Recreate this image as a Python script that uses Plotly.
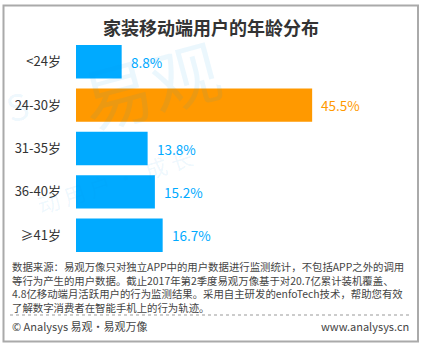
import plotly.graph_objects as go

categories = ["<24岁", "24-30岁", "31-35岁", "36-40岁", "≥41岁"]
values = [8.8, 45.5, 13.8, 15.2, 16.7]
bar_colors = ["#00AAFF", "#FF9900", "#00AAFF", "#00AAFF", "#00AAFF"]
title_text = "家装移动端用户的年龄分布"
note_lines = [
    "数据来源：易观万像只对独立APP中的用户数据进行监测统计，不包括APP之外的调用",
    "等行为产生的用户数据。截止2017年第2季度易观万像基于对20.7亿累计装机覆盖、",
    "4.8亿移动端月活跃用户的行为监测结果。采用自主研发的enfoTech技术，帮助您有效",
    "了解数字消费者在智能手机上的行为轨迹。",
]
footer_left = "© Analysys 易观·易观万像"
footer_right = "www.analysys.cn"

W, H = 421, 348
L, R, T, B = 76, 11, 40, 91
PW, PH = W - L - R, H - T - B


def px(x):
    return (x - L) / PW


def py(y):
    return (H - B - y) / PH


FONT = "Noto Sans CJK SC"

fig = go.Figure()
fig.add_trace(go.Bar(
    x=values, y=categories, orientation="h",
    marker=dict(color=bar_colors, line=dict(width=0)),
    width=0.77,
    hoverinfo="skip",
))

ann = []
# value labels
for c, v, col in zip(categories, values, bar_colors):
    ann.append(dict(x=v, y=c, xref="x", yref="y", text=f"{v:.1f}%", showarrow=False,
                    xanchor="left", yanchor="middle", xshift=7,
                    font=dict(family=FONT, size=13.5, color=col)))
# watermark
wm = "rgba(0,150,230,0.08)"
ann.append(dict(x=px(150), y=py(82), xref="paper", yref="paper", text="易观", showarrow=False,
                xanchor="center", yanchor="middle",
                textangle=-15, font=dict(family=FONT, size=70, color=wm)))
ann.append(dict(x=px(115), y=py(180), xref="paper", yref="paper", text="动 用 户 ·  成 长",
                showarrow=False, textangle=-18, xanchor="center", yanchor="middle",
                font=dict(family=FONT, size=22, color=wm)))
ann.append(dict(x=px(16), y=py(105), xref="paper", yref="paper", text="S", showarrow=False,
                textangle=-15, xanchor="center", yanchor="middle",
                font=dict(family=FONT, size=36, color=wm)))
# title
ann.append(dict(x=px(211), y=py(27), xref="paper", yref="paper", text=f"<b>{title_text}</b>",
                showarrow=False, xanchor="center", yanchor="middle",
                font=dict(family=FONT, size=18, color="#333333")))
# notes
ann.append(dict(x=px(10), y=py(257), xref="paper", yref="paper", text="<br>".join(note_lines),
                showarrow=False, xanchor="left", yanchor="top", align="left",
                font=dict(family=FONT, size=10.4, color="#444444")))
ann.append(dict(x=px(10), y=py(326), xref="paper", yref="paper", text=footer_left,
                showarrow=False, xanchor="left", yanchor="middle",
                font=dict(family=FONT, size=11, color="#444444")))
ann.append(dict(x=px(411), y=py(326), xref="paper", yref="paper", text=footer_right,
                showarrow=False, xanchor="right", yanchor="middle",
                font=dict(family=FONT, size=11, color="#444444")))

shapes = [
    dict(type="rect", xref="paper", yref="paper", x0=px(3.5), x1=px(418), y0=py(5.5), y1=py(341.5),
         line=dict(color="#AAAAAA", width=2), layer="above"),
    dict(type="line", xref="paper", yref="paper", x0=px(10), x1=px(412), y0=py(315), y1=py(315),
         line=dict(color="#999999", width=1, dash="dot")),
]

fig.update_layout(
    width=W, height=H,
    margin=dict(l=L, r=R, t=T, b=B),
    paper_bgcolor="white", plot_bgcolor="white",
    showlegend=False,
    bargap=0.23,
    xaxis=dict(range=[0, PW / 5.19], visible=False, fixedrange=True),
    yaxis=dict(categoryorder="array", categoryarray=categories, autorange="reversed",
               showgrid=False, zeroline=False, showline=False, ticks="",
               ticklabelstandoff=14,
               tickfont=dict(family=FONT, size=13, color="#333333")),
    annotations=ann,
    shapes=shapes,
)

fig.write_html("out.html")
